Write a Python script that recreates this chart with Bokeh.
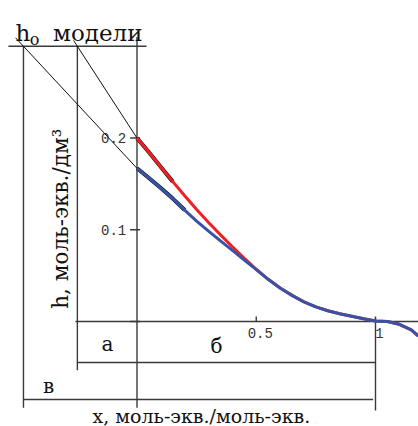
import numpy as np
from bokeh.plotting import figure
from bokeh.models import Range1d
from bokeh.core.properties import value
from bokeh.embed import file_html
from bokeh.resources import INLINE

# ---- data ----
x_model = [0.0, 0.05, 0.10, 0.15, 0.20, 0.25, 0.30, 0.35, 0.40, 0.45, 0.50, 0.55,
           0.60, 0.65, 0.70, 0.75, 0.80, 0.85, 0.90, 0.95, 1.00, 1.05, 1.10, 1.15, 1.18]
h_model = [0.200, 0.1845, 0.1685, 0.1525, 0.137, 0.122, 0.108, 0.0945, 0.0815, 0.069, 0.057, 0.046,
           0.0365, 0.0285, 0.0215, 0.016, 0.0118, 0.0085, 0.0058, 0.003, 0.0005, 0.000, -0.003, -0.009, -0.016]

x_fit = [0.0, 0.05, 0.10, 0.15, 0.20, 0.25, 0.30, 0.35, 0.40, 0.45, 0.50, 0.55,
         0.60, 0.65, 0.70, 0.75, 0.80, 0.85, 0.90, 0.95, 1.00, 1.05, 1.10, 1.15, 1.18]
h_fit = [0.167, 0.1565, 0.1455, 0.134, 0.1215, 0.1095, 0.0985, 0.088, 0.0775, 0.067, 0.0565, 0.046,
         0.0365, 0.0285, 0.0215, 0.016, 0.0118, 0.0085, 0.0058, 0.003, 0.0005, 0.000, -0.003, -0.009, -0.016]

h0_model = 0.3      # "h0 модели" level
h0_red = 0.2        # start of red curve
h0_blue = 0.167     # start of blue curve
x_a = -0.25         # red tangent meets h0 model
x_v = -0.476        # blue tangent meets h0 model

y_ticks = [0, 0.1, 0.2]
y_tick_labels = ["", "0.1", "0.2"]
x_ticks = [0.5, 1]
x_tick_labels = ["0.5", "1"]

title_main = "модели"
y_label = "h, моль-экв./дм³"
x_label = "x, моль-экв./моль-экв."
seg_labels = ["а", "б", "в"]

# ---- figure ----
p = figure(width=418, height=426, x_range=Range1d(-0.5723, 1.1803),
           y_range=Range1d(-0.1144, 0.3499), x_axis_type=None, y_axis_type=None,
           toolbar_location=None, output_backend="svg", min_border=0)
p.outline_line_color = None
p.grid.visible = False

SERIF = value("DejaVu Serif")
MONO = value("Liberation Mono")
frame_col = "#3a3a3a"

# frame / bracket lines
bracket_ab = -0.0447
bracket_v = -0.085
sx0 = [-0.539, x_v, x_a, 0, 1, x_a - 0.008, x_a, x_v]
sy0 = [h0_model, h0_model, h0_model, 0.31, 0.004, 0, bracket_ab, bracket_v]
sx1 = [0.04, x_v, x_a, 0, 1, 1.18, 1, 0.99]
sy1 = [h0_model, -0.094, -0.053, -0.094, -0.097, 0, bracket_ab, bracket_v]
p.segment(sx0, sy0, sx1, sy1, line_color=frame_col, line_width=1.4)

# axis ticks and tick labels (drawn at the axis crossing x=0, h=0)
yt = np.array(y_ticks, dtype=float)
p.segment(np.full(len(yt), -0.029), yt, np.full(len(yt), 0.0126), yt,
          line_color=frame_col, line_width=1.4)
ylab_keep = [i for i, s in enumerate(y_tick_labels) if s]
p.text(x=[-0.045] * len(ylab_keep), y=[y_ticks[i] for i in ylab_keep],
       text=[y_tick_labels[i] for i in ylab_keep], text_font=MONO,
       text_font_size=value("14px"), text_align="right", text_baseline="middle",
       text_color="#333333")
xt = np.array(x_ticks, dtype=float)
p.segment(xt, np.zeros(len(xt)), xt, np.full(len(xt), 0.0055),
          line_color=frame_col, line_width=1.4)
p.text(x=xt + 0.017, y=[-0.0065] * len(xt), text=x_tick_labels, text_font=MONO,
       text_font_size=value("14px"), text_align="center", text_baseline="top",
       text_color="#333333")

# tangent lines (extrapolation to h0 model)
slope_red = (h0_model - h0_red) / x_a
slope_blue = (h0_model - h0_blue) / x_v
tr_x = np.array([x_a - 0.016, 0.0])
tb_x = np.array([x_v - 0.033, 0.0])
p.line(tr_x, h0_red + slope_red * tr_x, line_color="#111111", line_width=1)
p.line(tb_x, h0_blue + slope_blue * tb_x, line_color="#111111", line_width=1)
# dark edge along the start of each curve
p.line(x_model[:4], h_model[:4], line_color="#111111", line_width=4)
p.line(x_fit[:5], h_fit[:5], line_color="#111111", line_width=4)

# curves
p.line(x_model, h_model, line_color="#f01f23", line_width=3)
p.line(x_fit, h_fit, line_color="#3653a6", line_width=3)

# title h0 модели
p.text(x=[-0.509], y=[0.314], text=["h"], text_font=SERIF, text_font_size=value("23px"),
       text_align="left", text_baseline="alphabetic", text_color="#111111")
p.text(x=[-0.450], y=[0.307], text=["o"], text_font=SERIF, text_font_size=value("16px"),
       text_align="left", text_baseline="alphabetic", text_color="#111111")
p.text(x=[-0.352], y=[0.314], text=[title_main], text_font=SERIF, text_font_size=value("23px"),
       text_align="left", text_baseline="alphabetic", text_color="#111111")

# axis labels
p.text(x=[-0.321], y=[0.112], text=[y_label], angle=np.pi / 2, text_font=SERIF,
       text_font_size=value("21.5px"), text_align="center", text_baseline="middle",
       text_color="#111111")
p.text(x=[0.27], y=[-0.1025], text=[x_label], text_font=SERIF,
       text_font_size=value("19px"), text_align="center", text_baseline="middle",
       text_color="#111111")

# segment labels
p.text(x=[-0.124, 0.333, -0.371], y=[-0.024, -0.027, -0.070], text=seg_labels,
       text_font=SERIF, text_font_size=value("20px"), text_align="center",
       text_baseline="middle", text_color="#111111")

open("out.html", "w").write(file_html(p, INLINE))
